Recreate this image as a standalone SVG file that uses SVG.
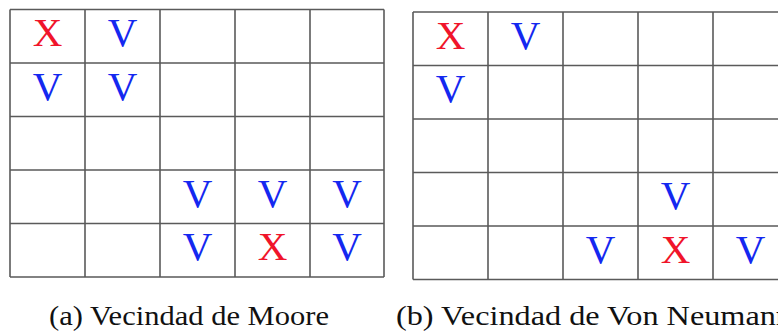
<svg xmlns="http://www.w3.org/2000/svg" width="778" height="335" viewBox="0 0 778 335">
<style>
.grid{stroke:#5a5a5a;stroke-width:1.6;fill:none}
.t{font-family:"Liberation Serif","Times New Roman",Times,Tinos,"Noto Serif","DejaVu Serif",FreeSerif,serif}
.l{font-size:41px;text-anchor:middle}
.x{fill:#f0142a}
.v{fill:#1428f0}
.cap{font-size:27px;fill:#111}
</style>
<rect width="778" height="335" fill="#fff"/>
<g id="gridA" class="t">
<path class="grid" d="M10,9.5H384M10,63H384M10,116.5H384M10,170H384M10,223.5H384M10,277H384M10,9.5V277M85,9.5V277M160,9.5V277M235,9.5V277M310,9.5V277M384,9.5V277"/>
<text class="l x" x="47.5" y="46">X</text>
<text class="l v" x="122.5" y="46">V</text>
<text class="l v" x="47.5" y="99.5">V</text>
<text class="l v" x="122.5" y="99.5">V</text>
<text class="l v" x="197.5" y="206.5">V</text>
<text class="l v" x="272.5" y="206.5">V</text>
<text class="l v" x="347" y="206.5">V</text>
<text class="l v" x="197.5" y="260">V</text>
<text class="l x" x="272.5" y="260">X</text>
<text class="l v" x="347" y="260">V</text>
</g>
<g id="gridB" class="t">
<path class="grid" d="M413,12H790M413,65.5H790M413,119H790M413,172.5H790M413,226H790M413,279.5H790M413,12V279.5M488,12V279.5M563,12V279.5M638,12V279.5M713,12V279.5"/>
<text class="l x" x="450.5" y="48.5">X</text>
<text class="l v" x="525.5" y="48.5">V</text>
<text class="l v" x="450.5" y="102">V</text>
<text class="l v" x="675.5" y="209">V</text>
<text class="l v" x="600.5" y="262.5">V</text>
<text class="l x" x="675.5" y="262.5">X</text>
<text class="l v" x="750.5" y="262.5">V</text>
</g>
<g id="captions" class="t">
<text class="cap" x="49" y="325" textLength="280" lengthAdjust="spacingAndGlyphs">(a) Vecindad de Moore</text>
<text class="cap" x="396" y="325" textLength="396" lengthAdjust="spacingAndGlyphs">(b) Vecindad de Von Neumann</text>
</g>
</svg>
